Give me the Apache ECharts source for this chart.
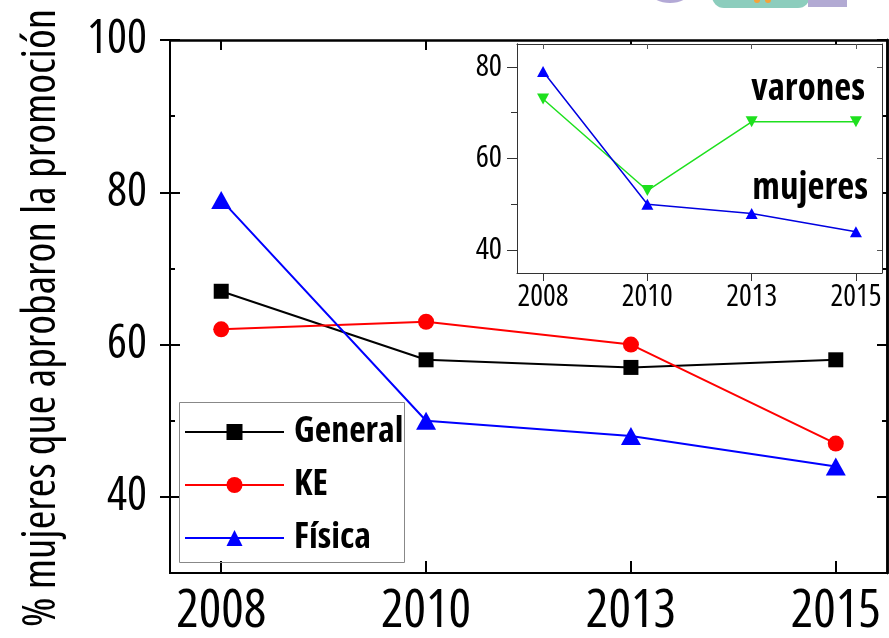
<!DOCTYPE html>
<html>
<head>
<meta charset="utf-8">
<script src="https://cdn.jsdelivr.net/npm/echarts@6/dist/echarts.min.js"></script>
<style>html,body{margin:0;padding:0;background:#fff}#c{width:889px;height:638px}</style>
</head>
<body>
<div id="c"></div>
<script>
// ---- data ----
const years = ['2008', '2010', '2013', '2015'];
const general = [67, 58, 57, 58];
const ke = [62, 63, 60, 47];
const fisica = [79, 50, 48, 44];
const insetMujeres = [79, 50, 48, 44];
const insetVarones = [73, 53, 68, 68];
const mainYLabels = [40, 60, 80, 100];
const mainYMinor = [50, 70, 90];
const insetYLabels = [40, 60, 80];
const insetYMinor = [50, 70];
const yTitle = '% mujeres que aprobaron la promoción';

const FAM = '"Open Sans", "DejaVu Sans", sans-serif';
const STRETCH = 'condensed';
const idx = years.map((_, i) => i);
const toPts = arr => arr.map((v, i) => [i, v]);

const chart = echarts.init(document.getElementById('c'), null, {renderer: 'canvas'});

function xAx(grid, pos, opts) {
  return Object.assign({
    type: 'value', gridIndex: grid, position: pos, min: -0.25, max: 3.25,
    splitLine: {show: false}, z: grid === 1 ? 6 : 1
  }, opts);
}
function yAx(grid, pos, min, max, opts) {
  return Object.assign({
    type: 'value', gridIndex: grid, position: pos, min: min, max: max,
    splitLine: {show: false}, z: grid === 1 ? 6 : 1
  }, opts);
}
const blackLine = w => ({show: true, onZero: false, lineStyle: {color: '#000', width: w}});
const insetLine = {show: true, onZero: false, lineStyle: {color: '#333', width: 1}};
const lbl = (size, margin, extra) => Object.assign({show: true, margin: margin, fontFamily: FAM,
  fontStyle: STRETCH, fontSize: size, color: '#000'}, extra);

chart.setOption({
  animation: false,
  backgroundColor: '#fff',
  grid: [
    {left: 170, top: 40, width: 717, height: 533, show: false},
    {left: 517, top: 44, width: 365, height: 229, show: true, backgroundColor: '#fff', borderWidth: 0, z: 3}
  ],
  xAxis: [
    xAx(0, 'bottom', {
      axisLine: blackLine(2),
      axisTick: {show: true, inside: true, length: 12, customValues: idx, lineStyle: {color: '#000', width: 2}},
      axisLabel: lbl(53, 12, {customValues: idx, formatter: v => years[Math.round(v)]})
    }),
    xAx(0, 'top', {
      axisLine: blackLine(2.5),
      axisTick: {show: true, inside: true, length: 10, customValues: idx, lineStyle: {color: '#000', width: 2}},
      axisLabel: {show: false}
    }),
    xAx(1, 'bottom', {
      axisLine: insetLine,
      axisTick: {show: true, inside: false, length: 8, customValues: idx, lineStyle: {color: '#333', width: 1}},
      axisLabel: lbl(30, 9, {customValues: idx, formatter: v => years[Math.round(v)]})
    }),
    xAx(1, 'top', {
      axisLine: insetLine,
      axisTick: {show: true, inside: true, length: 5, customValues: idx, lineStyle: {color: '#555', width: 1}},
      axisLabel: {show: false}
    })
  ],
  yAxis: [
    yAx(0, 'left', 30, 100, {
      axisLine: blackLine(2),
      axisTick: {show: true, inside: false, length: 10, customValues: mainYLabels, lineStyle: {color: '#000', width: 2}},
      axisLabel: lbl(47, 23, {customValues: mainYLabels})
    }),
    yAx(0, 'left', 30, 100, {
      axisLine: blackLine(2),
      axisTick: {show: true, inside: true, length: 10, customValues: mainYLabels, lineStyle: {color: '#000', width: 2}},
      axisLabel: {show: false}
    }),
    yAx(0, 'left', 30, 100, {
      axisLine: blackLine(2),
      axisTick: {show: true, inside: true, length: 5, customValues: mainYMinor, lineStyle: {color: '#000', width: 2}},
      axisLabel: {show: false}
    }),
    yAx(0, 'right', 30, 100, {
      axisLine: blackLine(2.5),
      axisTick: {show: true, inside: true, length: 10, customValues: mainYLabels, lineStyle: {color: '#000', width: 2}},
      axisLabel: {show: false}
    }),
    yAx(0, 'right', 30, 100, {
      axisLine: blackLine(2.5),
      axisTick: {show: true, inside: true, length: 5, customValues: mainYMinor, lineStyle: {color: '#000', width: 2}},
      axisLabel: {show: false}
    }),
    yAx(1, 'left', 35, 85, {
      axisLine: insetLine,
      axisTick: {show: true, inside: false, length: 10, customValues: insetYLabels, lineStyle: {color: '#333', width: 1}},
      axisLabel: lbl(31, 15, {customValues: insetYLabels})
    }),
    yAx(1, 'left', 35, 85, {
      axisLine: insetLine,
      axisTick: {show: true, inside: false, length: 6, customValues: insetYMinor, lineStyle: {color: '#333', width: 1}},
      axisLabel: {show: false}
    }),
    yAx(1, 'right', 35, 85, {
      axisLine: insetLine,
      axisTick: {show: true, inside: true, length: 5, customValues: insetYLabels, lineStyle: {color: '#555', width: 1}},
      axisLabel: {show: false}
    })
  ],
  legend: {
    orient: 'vertical', left: 184, top: 414, padding: 0,
    itemWidth: 99, itemHeight: 20, itemGap: 17,
    data: ['General', 'KE', 'Física'],
    textStyle: {fontFamily: FAM, fontStyle: STRETCH, fontSize: 36, fontWeight: 'bold', color: '#000',
      lineHeight: 33, padding: [0, 0, 0, 5]}
  },
  series: [
    {name: 'General', type: 'line', xAxisIndex: 0, yAxisIndex: 0, data: toPts(general),
      symbol: 'rect', symbolSize: 15, itemStyle: {color: '#000'}, lineStyle: {color: '#000', width: 2}},
    {name: 'KE', type: 'line', xAxisIndex: 0, yAxisIndex: 0, data: toPts(ke),
      symbol: 'circle', symbolSize: 16, itemStyle: {color: '#ff0000'}, lineStyle: {color: '#ff0000', width: 2}},
    {name: 'Física', type: 'line', xAxisIndex: 0, yAxisIndex: 0, data: toPts(fisica),
      symbol: 'triangle', symbolSize: [20, 18], itemStyle: {color: '#0000ff'}, lineStyle: {color: '#0000ff', width: 2}},
    {name: 'varones', type: 'line', xAxisIndex: 2, yAxisIndex: 5, data: toPts(insetVarones), z: 7,
      symbol: 'triangle', symbolRotate: 180, symbolSize: [12, 11], itemStyle: {color: '#1ee01e'}, lineStyle: {color: '#1ee01e', width: 1.5}},
    {name: 'mujeres', type: 'line', xAxisIndex: 2, yAxisIndex: 5, data: toPts(insetMujeres), z: 7,
      symbol: 'triangle', symbolSize: [12, 11], itemStyle: {color: '#0000ff'}, lineStyle: {color: '#0000e0', width: 1.5}}
  ],
  graphic: [
    {type: 'ellipse', shape: {cx: 670, cy: -10, rx: 21, ry: 13}, style: {fill: '#b3a9d6'}, z: 1},
    {type: 'rect', shape: {x: 712, y: -20, width: 98, height: 28, r: 12}, style: {fill: '#8ccdbd'}, z: 1},
    {type: 'circle', shape: {cx: 757, cy: 0, r: 3}, style: {fill: '#f4a23a'}, z: 2},
    {type: 'circle', shape: {cx: 768, cy: 0, r: 3}, style: {fill: '#f4a23a'}, z: 2},
    {type: 'rect', shape: {x: 808, y: -5, width: 39, height: 12}, style: {fill: '#b2aad3'}, z: 1},
    {type: 'rect', shape: {x: 179.5, y: 402.5, width: 225, height: 160}, style: {fill: 'none', stroke: '#888', lineWidth: 1}, z: 10},
    {type: 'text', x: 865, y: 89, z: 10, style: {text: 'varones', align: 'right', verticalAlign: 'middle',
      font: STRETCH + ' bold 37px ' + FAM, fill: '#000'}},
    {type: 'text', x: 868, y: 188, z: 10, style: {text: 'mujeres', align: 'right', verticalAlign: 'middle',
      font: STRETCH + ' bold 37px ' + FAM, fill: '#000'}},
    {type: 'text', x: 42, y: 318, rotation: Math.PI / 2, z: 10, style: {text: yTitle, align: 'center', verticalAlign: 'middle',
      font: STRETCH + ' 45px ' + FAM, fill: '#000'}}
  ]
});
</script>
</body>
</html>
